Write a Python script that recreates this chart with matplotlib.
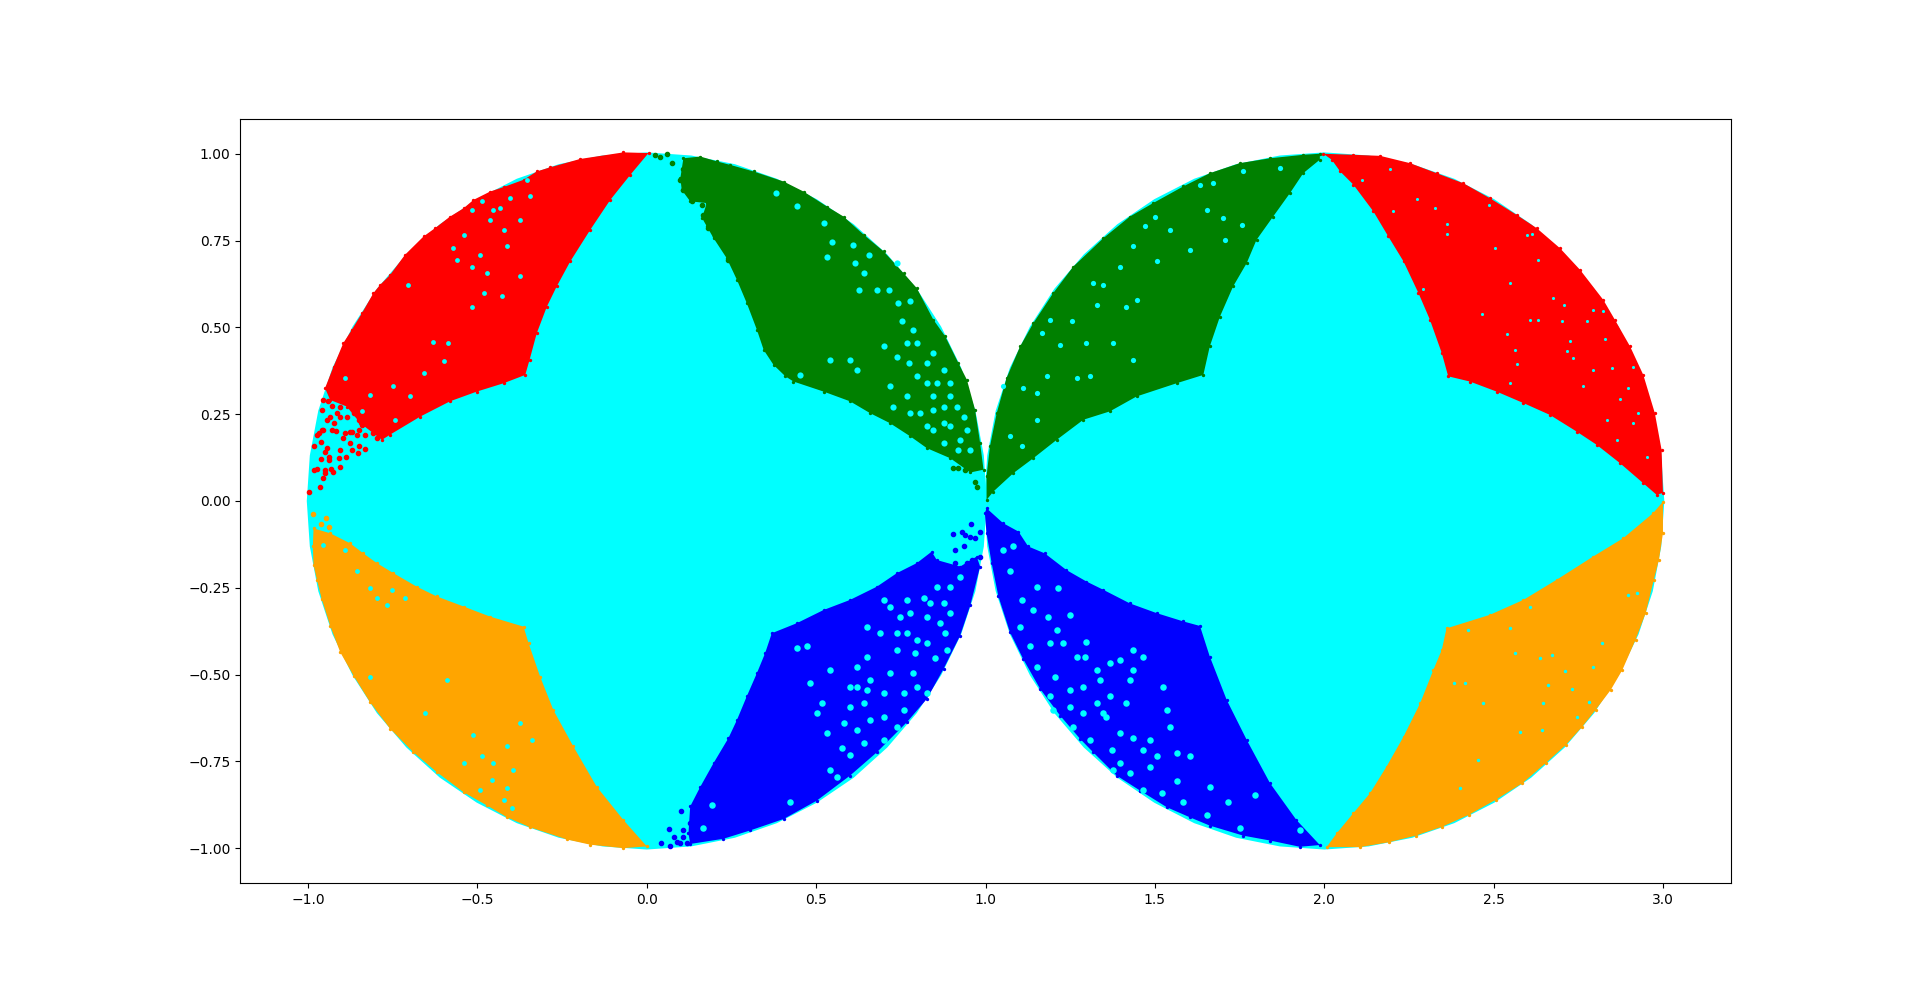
import matplotlib
matplotlib.use("Agg")
import matplotlib.pyplot as plt
import numpy as np

# outline of one quadrant of each disc
disc_quad_x = [1.004, .995, .970, .928, .869, .797, .710, .611, .502, .384, .260, .131, 0.0]
disc_quad_y = [0.0, .131, .260, .384, .502, .611, .710, .797, .869, .928, .970, .995, 1.004]
disc_centres = [0.0, 2.0]

# (x, y) outlines of the solid part of each coloured patch
red_left = [(.005,1.002),(-.069,1.004),(-.197,.985),(-.285,.961),(-.325,.949),(-.364,.925),(-.423,.904),(-.463,.891),(-.512,.867),(-.541,.843),(-.581,.819),(-.625,.786),(-.659,.762),(-.714,.709),(-.758,.651),(-.787,.623),(-.807,.599),(-.841,.541),(-.871,.493),(-.896,.455),(-.925,.387),(-.950,.325),(-.935,.291),(-.886,.272),(-.846,.224),(-.782,.176),(-.758,.191),(-.669,.243),(-.581,.287),(-.502,.315),(-.423,.339),(-.359,.363),(-.346,.407),(-.325,.483),(-.295,.560),(-.266,.618),(-.226,.690),(-.167,.781),(-.108,.867),(-.049,.939)]
green_left = [(.108,.987),(.158,.992),(.207,.978),(.246,.968),(.315,.949),(.404,.920),(.463,.891),(.532,.848),(.581,.819),(.640,.767),(.699,.719),(.758,.656),(.797,.613),(.846,.522),(.881,.474),(.920,.397),(.945,.349),(.969,.263),(.984,.167),(.994,.090),(.955,.082),(.896,.123),(.827,.152),(.778,.186),(.718,.224),(.659,.253),(.600,.287),(.522,.315),(.433,.344),(.409,.359),(.374,.392),(.345,.435),(.325,.493),(.295,.570),(.266,.637),(.236,.699),(.197,.757),(.177,.791),(.163,.815),(.177,.858),(.128,.863),(.103,.896),(.099,.930)]
orange_left = [(-.984,-.079),(-.935,-.093),(-.876,-.122),(-.837,-.151),(-.797,-.179),(-.748,-.208),(-.679,-.247),(-.620,-.275),(-.541,-.304),(-.463,-.333),(-.364,-.362),(-.349,-.410),(-.315,-.506),(-.276,-.602),(-.217,-.707),(-.148,-.823),(-.069,-.919),(0.0,-.995),(-.069,-1.000),(-.167,-.990),(-.236,-.975),(-.345,-.940),(-.413,-.911),(-.472,-.877),(-.541,-.839),(-.620,-.781),(-.689,-.724),(-.758,-.656),(-.817,-.580),(-.866,-.503),(-.905,-.436),(-.935,-.359),(-.960,-.282),(-.974,-.227),(-.984,-.184),(-.986,-.131)]
blue_left = [(.128,-.988),(.226,-.973),(.305,-.949),(.404,-.916),(.502,-.863),(.600,-.791),(.679,-.724),(.768,-.637),(.827,-.570),(.876,-.484),(.925,-.388),(.955,-.301),(.984,-.189),(.974,-.160),(.925,-.189),(.856,-.170),(.841,-.146),(.797,-.179),(.738,-.208),(.679,-.247),(.600,-.285),(.522,-.314),(.443,-.352),(.369,-.381),(.349,-.439),(.325,-.496),(.295,-.563),(.266,-.631),(.241,-.683),(.197,-.755),(.158,-.823),(.128,-.880),(.123,-.957)]
green_right = [(1.003,.003),(1.003,.071),(1.013,.157),(1.033,.253),(1.062,.354),(1.102,.445),(1.141,.512),(1.200,.599),(1.259,.675),(1.348,.757),(1.426,.819),(1.495,.858),(1.584,.906),(1.662,.944),(1.751,.973),(1.840,.987),(1.938,.997),(1.987,1.000),(1.987,.983),(1.938,.944),(1.899,.887),(1.849,.819),(1.800,.752),(1.771,.685),(1.731,.618),(1.692,.531),(1.662,.445),(1.643,.363),(1.564,.339),(1.446,.301),(1.367,.258),(1.289,.234),(1.210,.176),(1.141,.123),(1.082,.080),(1.023,.027)]
red_right = [(1.997,1.000),(2.086,.997),(2.165,.994),(2.253,.973),(2.332,.944),(2.411,.915),(2.489,.872),(2.568,.824),(2.627,.786),(2.696,.728),(2.755,.666),(2.824,.579),(2.858,.522),(2.903,.445),(2.942,.363),(2.976,.253),(2.996,.147),(3.000,.023),(2.981,.018),(2.942,.051),(2.873,.109),(2.804,.162),(2.745,.200),(2.666,.248),(2.588,.282),(2.509,.315),(2.430,.344),(2.366,.359),(2.347,.426),(2.312,.522),(2.278,.599),(2.234,.690),(2.189,.762),(2.145,.834),(2.086,.911),(2.047,.949),(2.022,.983)]
blue_right = [(1.003,-.021),(1.052,-.064),(1.097,-.088),(1.126,-.131),(1.175,-.151),(1.239,-.199),(1.298,-.232),(1.348,-.256),(1.426,-.295),(1.505,-.323),(1.584,-.347),(1.633,-.360),(1.662,-.448),(1.712,-.573),(1.771,-.688),(1.840,-.813),(1.918,-.919),(1.987,-.991),(1.928,-.996),(1.840,-.978),(1.761,-.964),(1.662,-.935),(1.603,-.911),(1.535,-.882),(1.456,-.834),(1.387,-.791),(1.318,-.724),(1.279,-.685),(1.220,-.618),(1.161,-.541),(1.111,-.455),(1.072,-.378),(1.038,-.275),(1.018,-.179),(1.003,-.093),(.998,-.035)]
orange_right = [(3.000,-.002),(3.000,-.093),(2.988,-.170),(2.973,-.227),(2.949,-.323),(2.919,-.400),(2.880,-.487),(2.846,-.544),(2.801,-.602),(2.762,-.650),(2.713,-.703),(2.654,-.755),(2.585,-.813),(2.506,-.861),(2.427,-.904),(2.349,-.938),(2.270,-.964),(2.191,-.983),(2.106,-.997),(2.007,-.997),(2.037,-.957),(2.086,-.899),(2.135,-.842),(2.184,-.765),(2.234,-.679),(2.283,-.583),(2.322,-.487),(2.347,-.429),(2.361,-.367),(2.489,-.328),(2.588,-.285),(2.686,-.227),(2.794,-.160),(2.883,-.107),(2.971,-.035)]

# single points standing apart from the solid patches
red_dots = [(-.996,.025),(-.964,.040),(-.957,.066),(-.984,.088),(-.974,.092),(-.950,.090),(-.933,.092),(-.928,.083),(-.950,.080),(-.962,.121),(-.937,.119),(-.937,.128),(-.950,.140),(-.945,.152),(-.982,.157),(-.962,.171),(-.969,.197),(-.955,.205),(-.930,.205),(-.918,.202),(-.891,.197),(-.871,.200),(-.905,.147),(-.910,.123),(-.905,.099),(-.888,.128),(-.871,.147),(-.851,.157),(-.832,.150),(-.853,.138),(-.896,.181),(-.876,.167),(-.960,.261),(-.930,.274),(-.935,.243),(-.925,.224),(-.945,.234),(-.905,.243),(-.851,.234),(-.841,.219),(-.807,.195),(-.832,.191),(-.905,.272),(-.886,.243),(-.866,.253),(-.827,.243),(-.807,.224),(-.797,.248),(-.787,.205),(-.768,.215),(-.940,.287),(-.915,.253),(-.955,.291),(-.925,.301),(-.876,.200),(-.856,.191),(-.797,.181),(-.851,.205),(-.817,.215),(-.960,.205),(-.974,.191)]
green_dots = [(.025,.997),(.040,.992),(.061,1.000),(.074,.973),(.969,.056),(.974,.040),(.903,.095),(.920,.095),(.940,.090),(.108,.956),(.138,.963),(.108,.896),(.133,.863),(.163,.853),(.167,.824),(.182,.786),(.202,.762),(.241,.695),(.148,.944),(.187,.915),(.099,.925)]
orange_dots = [(-.987,-.038),(-.948,-.050),(-.962,-.067),(-.937,-.076)]
blue_dots = [(.042,-.986),(.064,-.945),(.069,-.993),(.089,-.981),(.108,-.947),(.101,-.893),(.905,-.096),(.930,-.088),(.957,-.066),(.910,-.141),(.910,-.179),(.984,-.088),(.969,-.107),(.935,-.131),(.960,-.170),(.984,-.160),(.940,-.098),(.079,-.967),(.099,-.986),(.118,-.986),(.108,-.967),(.128,-.928),(.955,-.103),(.945,-.179)]

# holes where the cyan shows through
red_left_gaps = [(-.541,.767),(-.492,.709),(-.453,.839),(-.433,.843),(-.374,.810),(-.345,.877),(-.517,.675),(-.472,.656),(-.374,.647),(-.482,.599),(-.428,.589),(-.517,.560),(-.586,.455),(-.630,.459),(-.600,.402),(-.699,.301),(-.743,.234),(-.817,.306),(-.841,.258),(-.881,.224),(-.413,.733),(-.423,.781),(-.561,.695),(-.571,.728),(-.463,.810),(-.517,.839),(-.487,.863),(-.404,.872),(-.354,.925),(-.704,.623),(-.748,.330),(-.659,.368),(-.891,.354)]
green_left_gaps = [(.382,.888),(.443,.850),(.522,.800),(.546,.747),(.610,.738),(.655,.709),(.615,.685),(.640,.656),(.679,.608),(.714,.608),(.743,.570),(.778,.575),(.753,.517),(.787,.493),(.768,.455),(.773,.397),(.827,.397),(.846,.426),(.876,.378),(.896,.339),(.541,.407),(.768,.301),(.846,.301),(.807,.253),(.876,.272),(.915,.272),(.935,.243),(.896,.215),(.945,.205),(.876,.167),(.920,.147),(.955,.147),(.846,.205),(.728,.272),(.453,.363),(.625,.608),(.532,.704),(.797,.455),(.738,.416),(.797,.359),(.827,.339),(.856,.339),(.896,.301),(.846,.263),(.876,.224),(.925,.176),(.827,.215),(.778,.253),(.718,.330),(.699,.445),(.620,.378),(.600,.407),(.738,.685)]
orange_left_gaps = [(-.413,-.827),(-.394,-.775),(-.453,-.755),(-.512,-.674),(-.340,-.688),(-.487,-.736),(-.413,-.707),(-.458,-.803),(-.492,-.832),(-.423,-.861),(-.399,-.885),(-.817,-.506),(-.713,-.280),(-.768,-.299),(-.797,-.280),(-.817,-.251),(-.753,-.256),(-.856,-.203),(-.891,-.141),(-.955,-.127),(-.591,-.515),(-.654,-.611),(-.541,-.755),(-.374,-.640)]
blue_left_gaps = [(.819,-.280),(.768,-.285),(.718,-.304),(.650,-.448),(.738,-.429),(.851,-.453),(.792,-.439),(.640,-.583),(.620,-.659),(.532,-.669),(.600,-.731),(.576,-.712),(.423,-.866),(.192,-.875),(.167,-.943),(.482,-.525),(.517,-.583),(.443,-.424),(.650,-.362),(.827,-.333),(.876,-.295),(.896,-.247),(.925,-.218),(.955,-.122),(.930,-.160),(.881,-.381),(.827,-.410),(.787,-.496),(.758,-.602),(.699,-.688),(.659,-.515),(.600,-.535),(.541,-.487),(.699,-.621),(.738,-.650),(.827,-.554),(.886,-.429),(.561,-.794),(.472,-.419),(.738,-.381),(.699,-.285),(.778,-.323),(.856,-.247),(.837,-.295),(.896,-.323),(.866,-.352),(.797,-.400),(.768,-.381),(.689,-.381),(.620,-.535),(.650,-.544),(.600,-.592),(.581,-.640),(.659,-.631),(.718,-.496),(.797,-.535),(.758,-.554),(.699,-.554),(.620,-.477),(.640,-.698),(.541,-.775),(.502,-.611),(.748,-.333)]
green_right_gaps = [(1.672,.915),(1.761,.949),(1.869,.959),(1.633,.911),(1.500,.819),(1.436,.733),(1.544,.781),(1.471,.791),(1.702,.815),(1.653,.839),(1.707,.752),(1.756,.795),(1.603,.723),(1.397,.675),(1.505,.690),(1.318,.627),(1.348,.623),(1.446,.579),(1.416,.560),(1.254,.517),(1.190,.522),(1.166,.483),(1.220,.450),(1.269,.354),(1.308,.359),(1.151,.311),(1.111,.325),(1.180,.359),(1.151,.234),(1.072,.186),(1.298,.455),(1.436,.407),(1.328,.565),(1.377,.455),(1.052,.330),(1.107,.157)]
red_right_gaps = [(2.194,.956),(2.110,.925),(2.273,.870),(2.327,.843),(2.204,.834),(2.363,.797),(2.361,.769),(2.487,.853),(2.632,.693),(2.504,.728),(2.598,.767),(2.612,.769),(2.548,.627),(2.291,.610),(2.676,.584),(2.708,.565),(2.794,.551),(2.824,.546),(2.701,.517),(2.775,.517),(2.539,.481),(2.829,.466),(2.563,.435),(2.716,.431),(2.735,.411),(2.849,.383),(2.912,.387),(2.568,.395),(2.548,.339),(2.765,.332),(2.898,.325),(2.873,.293),(2.927,.253),(2.912,.224),(2.834,.232),(2.865,.176),(2.954,.128),(2.465,.539),(2.607,.520),(2.632,.520),(2.794,.378),(2.726,.462)]
blue_right_gaps = [(1.082,-.131),(1.052,-.141),(1.151,-.247),(1.215,-.251),(1.185,-.333),(1.298,-.405),(1.190,-.410),(1.249,-.328),(1.367,-.467),(1.328,-.487),(1.436,-.487),(1.525,-.535),(1.535,-.602),(1.416,-.583),(1.367,-.563),(1.249,-.544),(1.190,-.563),(1.328,-.583),(1.289,-.535),(1.205,-.506),(1.151,-.477),(1.131,-.419),(1.102,-.362),(1.357,-.621),(1.436,-.683),(1.485,-.688),(1.372,-.717),(1.485,-.765),(1.584,-.866),(1.653,-.904),(1.717,-.866),(1.795,-.847),(1.928,-.947),(1.564,-.808),(1.603,-.736),(1.662,-.823),(1.200,-.602),(1.259,-.650),(1.377,-.775),(1.466,-.832),(1.520,-.842),(1.751,-.943),(1.436,-.429),(1.308,-.688),(1.269,-.448),(1.072,-.203),(1.107,-.285),(1.141,-.314),(1.210,-.371),(1.230,-.410),(1.293,-.448),(1.338,-.515),(1.397,-.458),(1.426,-.515),(1.466,-.448),(1.348,-.611),(1.289,-.611),(1.249,-.592),(1.397,-.669),(1.466,-.717),(1.505,-.736),(1.426,-.784),(1.397,-.755),(1.544,-.650),(1.564,-.727)]
orange_right_gaps = [(2.745,-.621),(2.730,-.542),(2.783,-.578),(2.711,-.491),(2.671,-.443),(2.637,-.453),(2.563,-.437),(2.416,-.525),(2.383,-.525),(2.470,-.583),(2.647,-.583),(2.662,-.530),(2.819,-.410),(2.898,-.271),(2.922,-.266),(2.794,-.477),(2.607,-.306),(2.548,-.367),(2.425,-.371),(2.401,-.827),(2.455,-.746),(2.578,-.664),(2.642,-.659)]

fig, ax = plt.subplots(figsize=(19.23, 9.92), dpi=100)

# cyan discs underneath everything
qx = np.array(disc_quad_x)
qy = np.array(disc_quad_y)
ring_x = np.concatenate([qx, -qx[::-1], -qx, qx[::-1]])
ring_y = np.concatenate([qy, qy[::-1], -qy, -qy[::-1]])
for c in disc_centres:
    ax.fill(ring_x + c, ring_y, color="cyan", lw=0)

patches = [
    (red_left, "red", red_left_gaps, 12),
    (green_left, "green", green_left_gaps, 20),
    (orange_left, "orange", orange_left_gaps, 12),
    (blue_left, "blue", blue_left_gaps, 22),
    (green_right, "green", green_right_gaps, 14),
    (red_right, "red", red_right_gaps, 5),
    (blue_right, "blue", blue_right_gaps, 22),
    (orange_right, "orange", orange_right_gaps, 6),
]
for outline, col, gaps, gap_size in patches:
    xs, ys = zip(*outline)
    ax.fill(xs, ys, color=col, lw=0)
    # the rim is made of dots in the original, so dot the outline too
    ax.scatter(xs, ys, color=col, marker=".", s=8)
    gx, gy = zip(*gaps)
    ax.scatter(gx, gy, color="cyan", marker="o", s=gap_size, linewidths=0)

for dots, col in [(red_dots, "red"), (green_dots, "green"), (orange_dots, "orange"), (blue_dots, "blue")]:
    dx, dy = zip(*dots)
    ax.scatter(dx, dy, color=col, marker=".")

ax.set_xlim(-1.2, 3.2)
ax.set_ylim(-1.1, 1.1)
ax.set_xticks(np.arange(-1.0, 3.5, 0.5))
ax.set_yticks(np.arange(-1.0, 1.25, 0.25))

plt.savefig("out.png", dpi=100)
